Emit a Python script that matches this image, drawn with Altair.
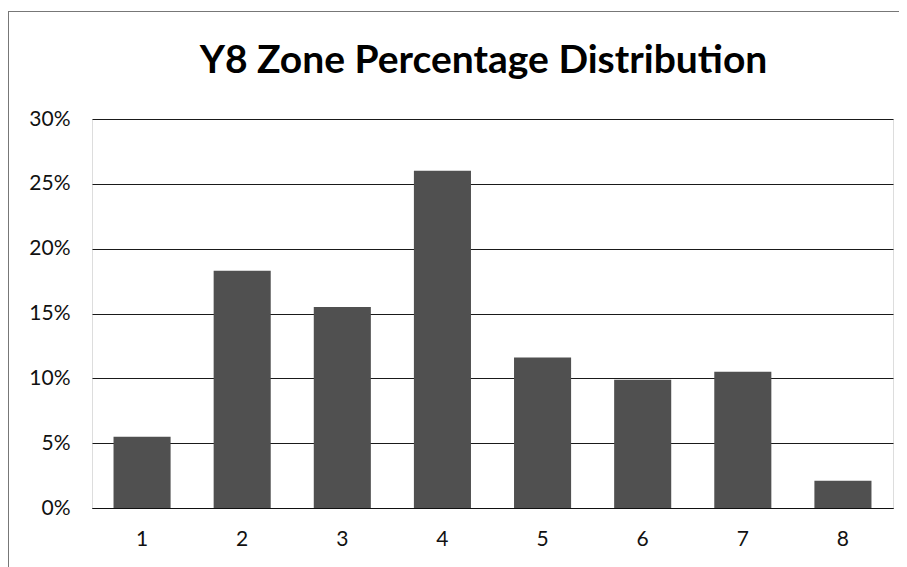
import altair as alt
import pandas as pd

zones = ["1", "2", "3", "4", "5", "6", "7", "8"]
percentages = [0.055, 0.183, 0.155, 0.260, 0.116, 0.099, 0.105, 0.021]
y_ticks = [0, 0.05, 0.10, 0.15, 0.20, 0.25, 0.30]

df = pd.DataFrame({"zone": zones, "pct": percentages})

bars = alt.Chart(df).mark_bar(color="#505050").encode(
    x=alt.X("zone:N", sort=zones, title=None,
            scale=alt.Scale(paddingInner=0.43, paddingOuter=0.215),
            axis=alt.Axis(labelAngle=0, labelFontSize=21, labelFont="Lato",
                          labelColor="#111", ticks=False, domainColor="#111",
                          domainWidth=1.2, labelPadding=20, grid=False)),
    y=alt.Y("pct:Q", title=None,
            scale=alt.Scale(domain=[0, 0.30], nice=False),
            axis=alt.Axis(values=y_ticks, format=".0%", labelFontSize=21,
                          labelFont="Lato", labelColor="#111", ticks=False,
                          domain=False, gridColor="#1a1a1a", gridWidth=1.1,
                          labelPadding=22)),
)

frame_left = alt.Chart(df).mark_rule(color="#777", strokeWidth=1).encode(
    x=alt.value(-83.5), y=alt.value(-108), y2=alt.value(460)
)
frame_top = alt.Chart(df).mark_rule(color="#777", strokeWidth=1).encode(
    x=alt.value(-84), x2=alt.value(820), y=alt.value(-107.5)
)

chart = alt.layer(bars, frame_left, frame_top).properties(
    width=801,
    height=389,
    title=alt.TitleParams("Y8 Zone Percentage Distribution", font="Lato",
                          fontSize=39, fontWeight="bold", color="#000",
                          anchor="middle", offset=-70, dx=-9),
    autosize=alt.AutoSizeParams(type="none"),
    padding={"left": 84, "top": 111, "right": 6, "bottom": 60},
).configure_view(stroke=None).configure(background="white")

chart.save("out.html", embed_options={"renderer": "svg", "actions": False})
